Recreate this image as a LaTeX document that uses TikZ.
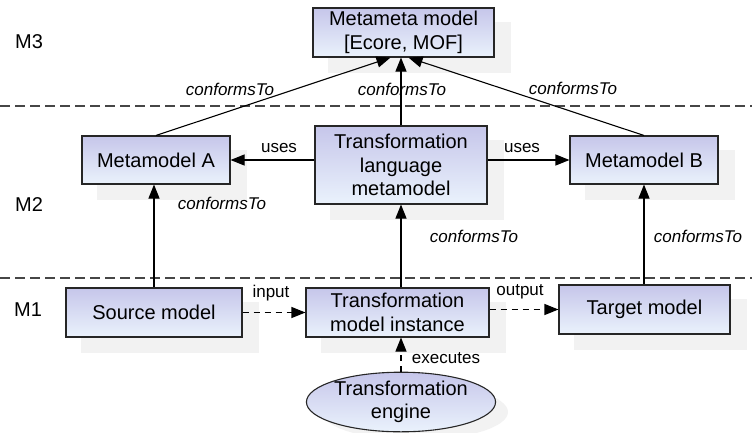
\documentclass[tikz,border=0pt]{standalone}
\usepackage{fontspec}
\setmainfont{Liberation Sans}
\usetikzlibrary{arrows.meta,shapes.geometric,backgrounds}
\definecolor{topc}{RGB}{198,198,234}
\definecolor{botc}{RGB}{234,242,252}
\definecolor{sepc}{RGB}{70,70,70}
\tikzset{
  boxstyle/.style={draw=black!85, line width=1.1pt, top color=topc, bottom color=botc,
    align=center, inner sep=0pt, font=\fontsize{20}{23.5}\selectfont},
  ellstyle/.style={boxstyle, ellipse},
  lbl/.style={font=\fontsize{17}{20}\selectfont, inner sep=0pt},
  ilbl/.style={lbl, font=\fontsize{17}{20}\selectfont\itshape},
  arr/.style={line width=1.1pt, -{Triangle[length=14pt,width=11pt]}},
  darr/.style={arr, dash pattern=on 6pt off 5pt},
  sepline/.style={draw=sepc, line width=1.3pt, dash pattern=on 10pt off 5pt},
  shadowfill/.style={fill=black!5, draw=none}
}
\begin{document}
\begin{tikzpicture}[x=1pt,y=-1pt]
\useasboundingbox (0,0) rectangle (752,432);
% separators
\draw[sepline] (0,106) -- (752,106);
\draw[sepline] (0,278) -- (752,278);
% level labels
\node[font=\fontsize{20}{23}\selectfont, inner sep=0pt] (m3) at (29,42) {M3};
\node[font=\fontsize{20}{23}\selectfont, inner sep=0pt] (m2) at (29,205) {M2};
\node[font=\fontsize{20}{23}\selectfont, inner sep=0pt] (m1) at (28,310) {M1};
% boxes
\node[boxstyle, minimum width=181pt, minimum height=49pt] (mm) at (403.5,32.5) {Metameta model\\{}{[Ecore, MOF]}};
\node[boxstyle, minimum width=148pt, minimum height=48pt] (ma) at (156,160) {Metamodel A};
\node[boxstyle, minimum width=172pt, minimum height=78pt] (tlm) at (401,165) {Transformation\\language\\metamodel};
\node[boxstyle, minimum width=148pt, minimum height=48pt] (mb) at (644,160) {Metamodel B};
\node[boxstyle, minimum width=176pt, minimum height=49pt] (sm) at (154,312.5) {Source model};
\node[boxstyle, minimum width=183pt, minimum height=49pt] (tmi) at (397.5,312.5) {Transformation\\model instance};
\node[boxstyle, minimum width=171pt, minimum height=49pt] (tm) at (644.5,309.5) {Target model};
\node[ellstyle, minimum width=186pt, minimum height=56pt] (te) at (401,402) {Transformation\\engine};
% shadows
\begin{pgfonlayer}{background}
\foreach \n in {mm,ma,tlm,mb,sm,tmi,tm}{
  \fill[shadowfill] ([shift={(16,15)}]\n.north west) rectangle ([shift={(16,15)}]\n.south east);
}
\fill[shadowfill] ([shift={(14,10)}]te.center) ellipse [x radius=93, y radius=28];
\end{pgfonlayer}
% conformsTo to metameta
\draw[arr] (ma.north) -- ([xshift=-13pt]mm.south);
\draw[arr] (tlm.north) -- (tlm.north |- mm.south);
\draw[arr] (mb.north) -- ([xshift=5pt]mm.south);
\node[ilbl] (c1) at (230,89) {conformsTo};
\node[ilbl] (c2) at (402,89) {conformsTo};
\node[ilbl] (c3) at (573,88) {conformsTo};
% uses
\draw[arr] (tlm.west |- ma.east) -- (ma.east);
\draw[arr] (tlm.east |- mb.west) -- (mb.west);
\node[lbl] (u1) at (279,148) {uses};
\node[lbl] (u2) at (522,148) {uses};
% M1 to M2 conformsTo
\draw[arr] (sm.north) -- (sm.north |- ma.south);
\draw[arr] (tmi.north -| tlm.south) -- (tlm.south);
\draw[arr] (tm.north -| mb.south) -- (mb.south);
\node[ilbl] (c4) at (222,203) {conformsTo};
\node[ilbl] (c5) at (474,236) {conformsTo};
\node[ilbl] (c6) at (698,236) {conformsTo};
% dashed
\draw[darr] (sm.east) -- (tmi.west);
\draw[darr] (tm.west -| tmi.east) -- (tm.west);
\draw[darr] (te.north) -- (te.north |- tmi.south);
\node[lbl] (in) at (271,293) {input};
\node[lbl] (out) at (520,292) {output};
\node[lbl] (ex) at (446,358) {executes};
\end{tikzpicture}
\end{document}
